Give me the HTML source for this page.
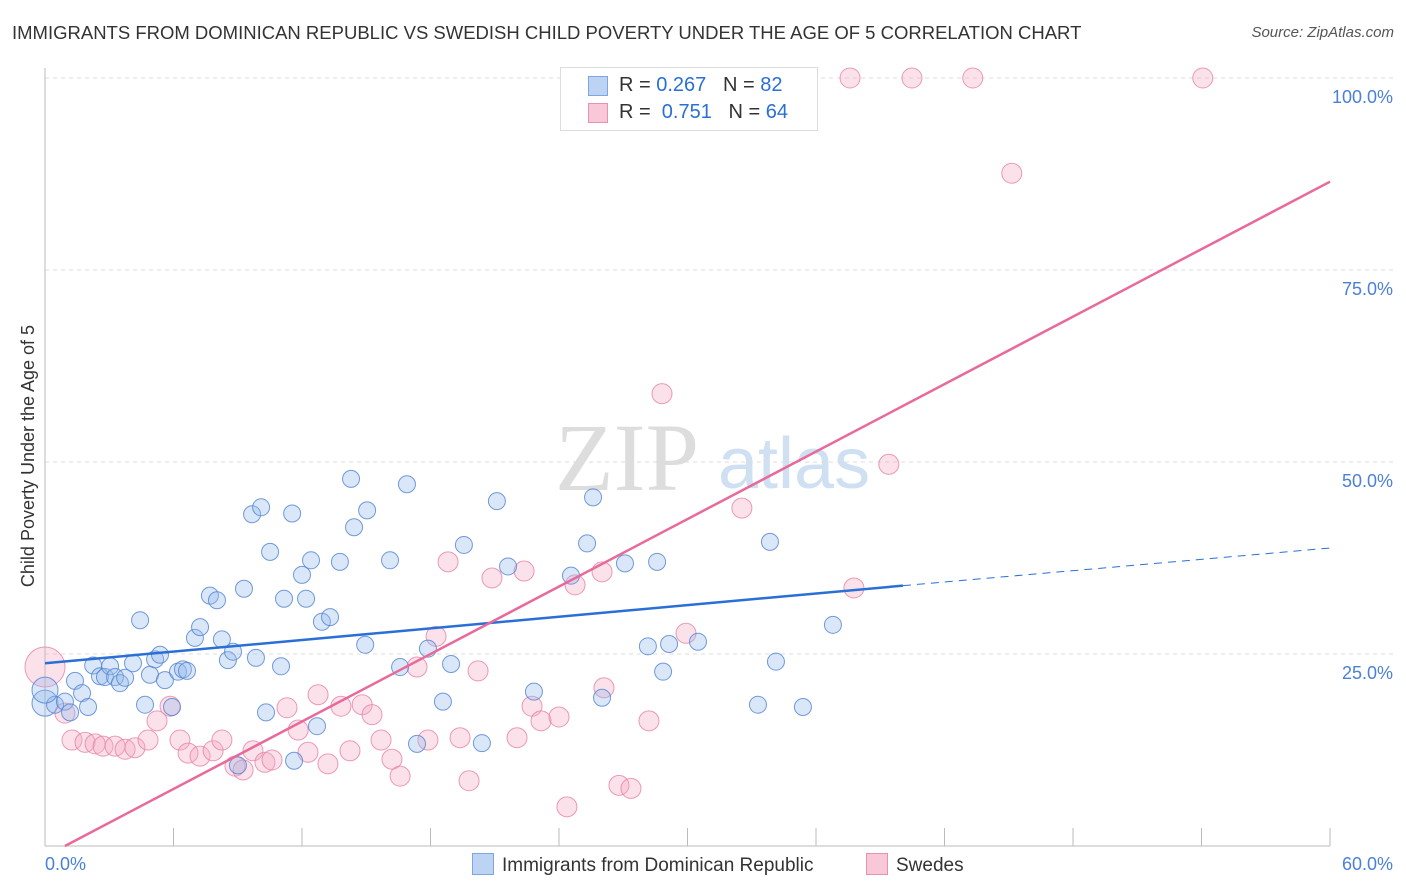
<!DOCTYPE html>
<html><head><meta charset="utf-8">
<style>
body{margin:0;background:#fff;font-family:"Liberation Sans",sans-serif;}
#wrap{position:relative;width:1406px;height:892px;overflow:hidden;}
.t{position:absolute;white-space:nowrap;}
</style></head>
<body>
<div id="wrap">
<div class="t" style="left:12px;top:22px;font-size:18.5px;color:#333;">IMMIGRANTS FROM DOMINICAN REPUBLIC VS SWEDISH CHILD POVERTY UNDER THE AGE OF 5 CORRELATION CHART</div>
<div class="t" style="right:12px;top:24px;font-size:15px;color:#555;font-style:italic;">Source: ZipAtlas.com</div>
<svg id="plot" width="1406" height="892" style="position:absolute;left:0;top:0"></svg>
</div>
<script>
const xTicks=[0,6,12,18,24,30,36,42,48,54,60];
const yTicks=[25,50,75,100];
const blueX=[0,0.47,0.93,1.17,1.40,1.73,2.01,2.25,2.57,2.80,3.04,3.27,3.50,3.74,4.11,4.44,4.67,4.90,5.14,5.37,5.60,5.93,6.21,6.44,6.63,7.00,7.24,7.70,8.03,8.26,8.54,8.78,9.29,9.67,9.85,10.09,10.32,10.51,11.02,11.16,11.54,11.63,12.00,12.19,12.42,12.70,12.93,13.31,13.77,14.29,14.43,14.95,15.04,16.11,16.58,16.90,17.37,17.88,18.58,18.96,19.56,20.40,21.10,21.62,22.83,24.56,25.31,25.59,26.01,27.08,28.15,28.58,28.86,29.14,30.49,33.29,33.85,34.13,35.39,36.79,9.01,0];
const blueY=[18.6,18.4,18.8,17.4,21.5,19.9,18.1,23.5,22.1,22.0,23.4,22.0,21.2,21.9,23.8,29.4,18.4,22.3,24.3,24.9,21.6,18.1,22.7,23.0,22.8,27.1,28.5,32.6,32.0,26.9,24.2,25.3,33.5,43.2,24.5,44.1,17.4,38.3,23.4,32.2,43.3,11.1,35.3,32.2,37.2,15.6,29.2,29.8,37.0,47.8,41.5,26.2,43.7,37.2,23.3,47.1,13.3,25.7,18.8,23.7,39.2,13.4,44.9,36.4,20.1,35.2,39.4,45.4,19.3,36.8,26.0,37.0,22.7,26.3,26.6,18.4,39.6,24.0,18.1,28.8,10.5,20.3];
const pinkX=[0,0.93,1.26,1.87,2.34,2.71,3.27,3.74,4.20,4.81,5.23,5.84,6.30,6.68,7.24,7.85,8.26,8.87,9.25,9.71,10.27,10.60,11.30,11.82,12.28,12.75,13.21,13.82,14.24,14.81,15.27,15.69,16.20,16.58,17.37,17.88,18.26,18.82,19.38,19.80,20.22,20.87,22.04,22.37,22.74,23.16,24.00,24.37,24.75,26.01,26.10,26.80,27.36,28.20,28.81,29.93,32.54,37.77,39.40,37.59,40.48,43.32,45.14,54.06];
const pinkY=[23.3,17.3,13.8,13.5,13.3,13.0,13.0,12.6,12.8,13.8,16.3,18.2,13.8,12.1,11.7,12.4,13.8,10.4,9.9,12.4,10.9,11.2,18.0,15.1,12.2,19.7,10.7,18.2,12.4,18.4,17.1,13.8,11.3,9.1,23.3,13.8,27.3,37.0,14.1,8.5,22.8,34.9,14.1,35.8,18.2,16.3,16.8,5.1,34.0,35.7,20.6,7.9,7.5,16.3,58.9,27.7,44.0,33.6,49.7,100,100,100,87.6,100];
const pinkR=[20,10,10,10,10,10,10,10,10,10,10,10,10,10,10,10,10,10,10,10,10,10,10,10,10,10,10,10,10,10,10,10,10,10,10,10,10,10,10,10,10,10,10,10,10,10,10,10,10,10,10,10,10,10,10,10,10,10,10,10,10,10,10,10];
const blueR=blueX.map((v,i)=>i===0||i===blueX.length-1?13:8.5);
const blueLine=[23.8,33.9,38.8]; // y at x=0, 40.06, 60
const pinkLine=[0.93,86.5]; // x where y=0, y at x=60

const L=45,R=1330,T=78,B=846;
const sx=v=>L+(v/60)*(R-L);
const sy=v=>B-(v/100)*(B-T);
const svg=document.getElementById('plot');
const NS='http://www.w3.org/2000/svg';
function mk(tag,a,p){const e=document.createElementNS(NS,tag);for(const k in a)e.setAttribute(k,a[k]);(p||svg).appendChild(e);return e;}

let wm=mk('text',{x:555,y:490,'font-size':96,fill:'#ddd','font-family':'Liberation Serif, serif'});wm.textContent='ZIP';


let wm2=mk('text',{x:718,y:488,'font-size':72,fill:'#cfe0f3','font-family':'Liberation Sans, sans-serif'});wm2.textContent='atlas';



yTicks.forEach(v=>{
 const g=mk('line',{x1:L,x2:1395,y1:sy(v),y2:sy(v),stroke:'#ddd','stroke-dasharray':'4,4'});
 
 
 const t=mk('text',{x:1393,y:sy(v)+25,'text-anchor':'end','font-size':18,fill:'#4a80d8'});t.textContent=v.toFixed(1)+'%';
 
 
});
let ax=mk('line',{x1:L,x2:R,y1:B,y2:B,stroke:'#bbb'});


let ay=mk('line',{x1:L,x2:L,y1:68,y2:B,stroke:'#bbb'});


xTicks.forEach(v=>{
 const tk=mk('line',{x1:sx(v),x2:sx(v),y1:B,y2:B-18,stroke:'#bbb'});
 
 
});
[[0,'start',45],[60,'end',1393]].forEach(([v,a,x])=>{
 const t=mk('text',{x:x,y:870,'text-anchor':a,'font-size':18,fill:'#4a80d8'});t.textContent=v.toFixed(1)+'%';
 
 
});
let yt=mk('text',{x:0,y:0,'font-size':18,fill:'#333',transform:'translate(34,456) rotate(-90)','text-anchor':'middle'});yt.textContent='Child Poverty Under the Age of 5';



pinkX.forEach((x,i)=>{
 const c=mk('circle',{cx:sx(x),cy:sy(pinkY[i]),r:pinkR[i],fill:'rgba(244,170,195,0.35)',stroke:'rgba(232,130,165,0.8)','stroke-width':1});
 
 
});
blueX.forEach((x,i)=>{
 const c=mk('circle',{cx:sx(x),cy:sy(blueY[i]),r:blueR[i],fill:'rgba(150,185,235,0.35)',stroke:'rgba(80,130,210,0.8)','stroke-width':1});
 
 
});
let bl=mk('line',{x1:sx(0),y1:sy(blueLine[0]),x2:sx(40.06),y2:sy(blueLine[1]),stroke:'#2a6fd6','stroke-width':2.5});


let bd=mk('line',{x1:sx(40.06),y1:sy(blueLine[1]),x2:sx(60),y2:sy(blueLine[2]),stroke:'#2a6fd6','stroke-width':1,'stroke-dasharray':'8,6'});


let pl=mk('line',{x1:sx(pinkLine[0]),y1:sy(0),x2:sx(60),y2:sy(pinkLine[1]),stroke:'#e8699a','stroke-width':2.5});


</script>
<div class="t" style="left:560px;top:67px;width:256px;height:62px;border:1px solid #ddd;background:#fff;font-size:20px;color:#333;">
 <div style="position:absolute;left:27px;top:8px;width:18px;height:18px;background:#bcd3f3;border:1px solid #7ea6e0"></div>
 <div style="position:absolute;left:58px;top:6px">R = <span style="color:#2a6fd6">0.267</span>&nbsp;&nbsp;&nbsp;N = <span style="color:#2a6fd6">82</span></div>
 <div style="position:absolute;left:27px;top:35px;width:18px;height:18px;background:#f8c8d8;border:1px solid #e890b0"></div>
 <div style="position:absolute;left:58px;top:33px">R = &nbsp;<span style="color:#2a6fd6">0.751</span>&nbsp;&nbsp;&nbsp;N = <span style="color:#2a6fd6">64</span></div>
</div>
<div class="t" style="left:472px;top:853px;font-size:19px;color:#333;">
 <span style="display:inline-block;width:20px;height:20px;background:#bcd3f3;border:1px solid #7ea6e0;vertical-align:-4px;margin-right:8px"></span>Immigrants from Dominican Republic</div>
<div class="t" style="left:866px;top:853px;font-size:19px;color:#333;">
 <span style="display:inline-block;width:20px;height:20px;background:#f8c8d8;border:1px solid #e890b0;vertical-align:-4px;margin-right:8px"></span>Swedes</div>
</body></html>
